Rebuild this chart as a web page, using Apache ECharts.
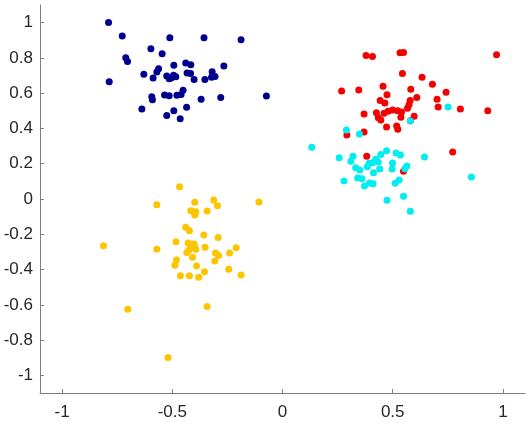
<!DOCTYPE html>
<html>
<head>
<meta charset="utf-8">
<script src="https://cdn.jsdelivr.net/npm/echarts@6/dist/echarts.min.js"></script>
<style>
  html, body { margin: 0; padding: 0; background: #fff; }
  #chart { width: 530px; height: 424px; }
</style>
</head>
<body>
<div id="chart"></div>
<script>
// tick labels
var xTicks = [-1, -0.5, 0, 0.5, 1];
var yTicks = [-1, -0.8, -0.6, -0.4, -0.2, 0, 0.2, 0.4, 0.6, 0.8, 1];

// cluster points [x, y]
var blue = [
  [-0.789, 1.001], [-0.727, 0.924], [-0.511, 0.914], [-0.356, 0.914], [-0.188, 0.903],
  [-0.597, 0.852], [-0.546, 0.823], [-0.711, 0.801], [-0.703, 0.780], [-0.493, 0.758],
  [-0.439, 0.771], [-0.416, 0.761], [-0.266, 0.754], [-0.562, 0.738], [-0.570, 0.720],
  [-0.629, 0.708], [-0.433, 0.714], [-0.417, 0.712], [-0.319, 0.721], [-0.525, 0.697],
  [-0.494, 0.701], [-0.505, 0.686], [-0.484, 0.693], [-0.514, 0.682], [-0.587, 0.686],
  [-0.401, 0.678], [-0.352, 0.678], [-0.322, 0.690], [-0.306, 0.695], [-0.786, 0.665],
  [-0.451, 0.616], [-0.460, 0.593], [-0.479, 0.588], [-0.535, 0.589], [-0.514, 0.585],
  [-0.593, 0.580], [-0.590, 0.563], [-0.369, 0.565], [-0.280, 0.576], [-0.073, 0.584],
  [-0.638, 0.510], [-0.435, 0.520], [-0.493, 0.500], [-0.525, 0.474], [-0.464, 0.455]
];

var red = [
  [0.379, 0.814], [0.408, 0.808], [0.533, 0.829], [0.549, 0.831], [0.971, 0.818],
  [0.544, 0.712], [0.633, 0.690], [0.680, 0.650], [0.456, 0.639], [0.268, 0.612],
  [0.346, 0.618], [0.582, 0.622], [0.742, 0.605], [0.474, 0.591], [0.609, 0.576],
  [0.443, 0.559], [0.464, 0.544], [0.579, 0.559], [0.701, 0.565], [0.574, 0.534],
  [0.706, 0.521], [0.807, 0.510], [0.931, 0.500], [0.567, 0.514], [0.370, 0.482],
  [0.426, 0.489], [0.461, 0.486], [0.479, 0.497], [0.500, 0.504], [0.522, 0.500],
  [0.540, 0.493], [0.435, 0.461], [0.446, 0.448], [0.537, 0.463], [0.597, 0.469],
  [0.580, 0.444], [0.472, 0.408], [0.518, 0.414], [0.523, 0.395], [0.370, 0.380],
  [0.292, 0.363], [0.382, 0.242], [0.772, 0.266], [0.549, 0.157]
];

var cyan = [
  [0.290, 0.391], [0.349, 0.368], [0.580, 0.442], [0.751, 0.521], [0.133, 0.293],
  [0.257, 0.234], [0.320, 0.242], [0.310, 0.214], [0.446, 0.253], [0.472, 0.274],
  [0.515, 0.261], [0.535, 0.249], [0.644, 0.238], [0.423, 0.225], [0.408, 0.206],
  [0.393, 0.202], [0.434, 0.210], [0.499, 0.204], [0.385, 0.183], [0.332, 0.177],
  [0.351, 0.164], [0.441, 0.170], [0.497, 0.170], [0.564, 0.187], [0.555, 0.172],
  [0.413, 0.149], [0.279, 0.102], [0.341, 0.119], [0.360, 0.115], [0.529, 0.108],
  [0.511, 0.089], [0.372, 0.074], [0.395, 0.091], [0.411, 0.087], [0.857, 0.125],
  [0.474, -0.007], [0.549, 0.015], [0.580, -0.070]
];

var yellow = [
  [-0.467, 0.070], [-0.570, -0.032], [-0.398, -0.019], [-0.312, -0.006], [-0.295, -0.038],
  [-0.107, -0.017], [-0.416, -0.066], [-0.393, -0.072], [-0.398, -0.091], [-0.342, -0.068],
  [-0.439, -0.160], [-0.422, -0.180], [-0.357, -0.204], [-0.292, -0.219], [-0.483, -0.242],
  [-0.812, -0.265], [-0.570, -0.285], [-0.416, -0.261], [-0.401, -0.255], [-0.424, -0.289],
  [-0.393, -0.285], [-0.434, -0.304], [-0.408, -0.330], [-0.351, -0.274], [-0.304, -0.306],
  [-0.290, -0.321], [-0.307, -0.351], [-0.240, -0.306], [-0.210, -0.276], [-0.481, -0.346],
  [-0.488, -0.376], [-0.390, -0.380], [-0.354, -0.412], [-0.244, -0.398], [-0.188, -0.431],
  [-0.463, -0.435], [-0.422, -0.435], [-0.380, -0.444], [-0.702, -0.625], [-0.342, -0.610],
  [-0.519, -0.899], [-0.410, -0.272], [-0.428, -0.250]
];

var chart = echarts.init(document.getElementById('chart'));

var axisCommon = {
  type: 'value',
  min: -1.1,
  max: 1.1,
  axisLine: { show: true, onZero: false, lineStyle: { color: '#808080', width: 1 } },
  axisTick: { show: true, inside: true, length: 4, lineStyle: { color: '#808080' } },
  splitLine: { show: false },
  axisLabel: {
    color: '#262626',
    fontSize: 17,
    fontFamily: 'Liberation Sans, Arial, sans-serif'
  }
};

function scat(name, data, color) {
  return {
    name: name,
    type: 'scatter',
    data: data,
    symbolSize: 7,
    itemStyle: { color: color, opacity: 1 },
    animation: false
  };
}

chart.setOption({
  animation: false,
  grid: { left: 40, right: 5, top: 5, bottom: 31 },
  xAxis: Object.assign({}, axisCommon, {
    axisTick: Object.assign({}, axisCommon.axisTick, { customValues: xTicks }),
    axisLabel: Object.assign({}, axisCommon.axisLabel, { customValues: xTicks, margin: 11 })
  }),
  yAxis: Object.assign({}, axisCommon, {
    axisTick: Object.assign({}, axisCommon.axisTick, { customValues: yTicks }),
    axisLabel: Object.assign({}, axisCommon.axisLabel, { customValues: yTicks, margin: 7 })
  }),
  series: [
    scat('blue', blue, '#00008f'),
    scat('red', red, '#f40000'),
    scat('cyan', cyan, '#00eef0'),
    scat('yellow', yellow, '#fcc500')
  ]
});
</script>
</body>
</html>
